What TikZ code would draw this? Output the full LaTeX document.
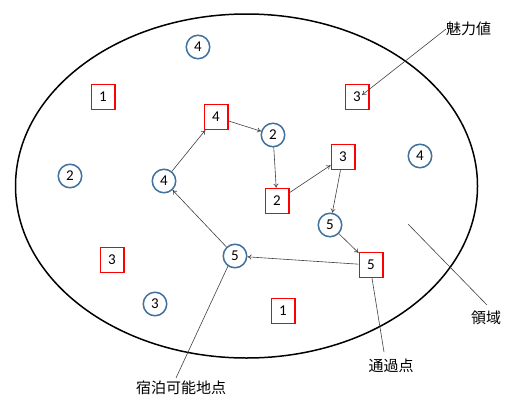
\documentclass[tikz,border=0pt]{standalone}
\usepackage{fontspec}
\setmainfont{Carlito}
\newfontfamily\jpfont{Noto Sans CJK JP}
\usetikzlibrary{arrows.meta}
\definecolor{cblue}{HTML}{41719C}
\begin{document}
\begin{tikzpicture}[x=1pt,y=-1pt,
  rc/.style={circle,draw=cblue,line width=1.5pt,minimum size=23.5pt,inner sep=0pt,font=\fontsize{15}{15}\selectfont},
  rs/.style={rectangle,draw=red,line width=1.5pt,minimum width=23.5pt,minimum height=25pt,inner sep=0pt,font=\fontsize{15}{15}\selectfont},
  conn/.style={draw=black!75,line width=0.6pt,-{To[length=4pt,width=5pt]}},
  lead/.style={draw=black!75,line width=0.6pt},
  lbl/.style={font=\jpfont\fontsize{15}{15}\selectfont,inner sep=0pt}]
\useasboundingbox (0,0) rectangle (518,399);
\draw[line width=1.5pt] (246.5,186) ellipse [x radius=231, y radius=172];
% nodes
\node[rc] (c4a) at (198,47) {4};
\node[rs] (s1a) at (103,97) {1};
\node[rs] (s4) at (216,117) {4};
\node[rc] (c2a) at (273,135) {2};
\node[rs] (s3a) at (357,97) {3};
\node[rs] (s3b) at (343,157) {3};
\node[rc] (c4b) at (420,156) {4};
\node[rc] (c2b) at (70,176) {2};
\node[rc] (c4c) at (164,181) {4};
\node[rs] (s2) at (277,201) {2};
\node[rc] (c5a) at (330,225) {5};
\node[rc] (c5b) at (235,256) {5};
\node[rs] (s5) at (371,265) {5};
\node[rs] (s3c) at (112,260) {3};
\node[rc] (c3) at (155,304) {3};
\node[rs] (s1b) at (283,311) {1};
% labels
\node[lbl,anchor=west] (lmiryoku) at (446,29) {魅力値};
\node[lbl,anchor=west] (lryoiki) at (471,318) {領域};
\node[lbl] (ltsuka) at (391,366) {通過点};
\node[lbl] (lshuku) at (181,388) {宿泊可能地点};
\coordinate (mtip) at (362,95);
\coordinate (rstart) at (408,224);
\coordinate (rend) at (487,305);
\coordinate (tend) at (384,352);
\coordinate (send) at (176,378);
% route
\draw[conn] (c5b) -- (c4c);
\draw[conn] (c4c) -- (s4);
\draw[conn] (s4) -- (c2a);
\draw[conn] (c2a) -- (s2);
\draw[conn] (s2) -- (s3b);
\draw[conn] (s3b) -- (c5a);
\draw[conn] (c5a) -- (s5);
\draw[conn] (s5) -- (c5b);
% leaders
\draw[conn] (lmiryoku.west) -- (mtip);
\draw[lead] (rstart) -- (rend);
\draw[lead] (s5.south) ++(1,0) -- (tend);
\draw[lead] (c5b) ++(-7,10) -- (send);
\end{tikzpicture}
\end{document}
